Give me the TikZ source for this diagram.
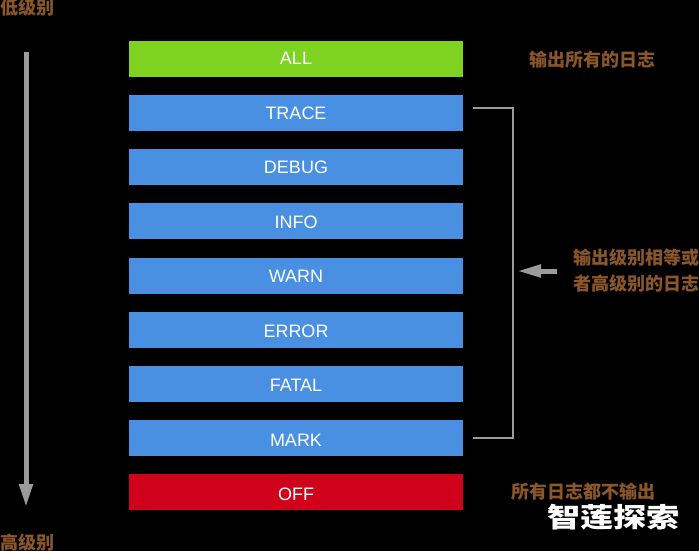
\documentclass[tikz,border=0pt]{standalone}
\usepackage{graphicx}
\usepackage{fontspec}
\setmainfont{Liberation Sans}
\newfontfamily\cjk{Noto Sans CJK SC}
\usetikzlibrary{arrows.meta}
\definecolor{barblue}{HTML}{4A90E2}
\definecolor{bargreen}{HTML}{7ED321}
\definecolor{barred}{HTML}{D0021B}
\definecolor{notebrown}{HTML}{8B572A}
\definecolor{linegray}{HTML}{9B9B9B}
\tikzset{
	levelbar/.style={minimum width=334pt,minimum height=36pt,inner sep=0pt},
	leveltext/.style={inner sep=0pt,text=white,font=\fontsize{18}{18}\selectfont},
	note/.style={text=notebrown,inner sep=0pt,font=\cjk\bfseries\fontsize{18}{26}\selectfont,align=left},
	bigarrow/.style={draw=linegray,line width=5pt,-{Triangle[length=23pt,width=13pt,fill=linegray]}},
}
\begin{document}
\begin{tikzpicture}[x=1pt,y=-1pt]
	\path[fill=black,use as bounding box] (0,0) rectangle (699,551);
	\foreach \x/\y/\c/\s in {ALL/59/bargreen/-1,TRACE/113/barblue/0,DEBUG/167/barblue/0.5,INFO/221/barblue/1.5,WARN/276/barblue/0.5,ERROR/330/barblue/1.5,FATAL/384/barblue/1.5,MARK/438/barblue/2.5,OFF/492/barred/2}
	\path (296,\y) node[levelbar,fill=\c] (\x) {} (296,\y+\s) node[leveltext] (\x text) {\x};
	\coordinate (top) at (26,52);
	\coordinate (bottom) at (26,507);
	\draw[bigarrow] (top)--(bottom);%left arrow
	\node[note,anchor=west] (low) at (0,8) {低级别};
	\node[note,anchor=west] (high) at (0,543) {高级别};
	\node[note,anchor=west] (allnote) at (529,60) {输出所有的日志};
	\node[note,anchor=west] (samenote) at (573,271) {输出级别相等或\\者高级别的日志};
	\node[note,anchor=west] (offnote) at (511,492) {所有日志都不输出};
	\coordinate (a) at (473,108);
	\coordinate (b) at (513,108);
	\coordinate (c) at (513,438);
	\coordinate (d) at (473,438);
	\draw[linegray,line width=1.5pt] (a)--(b)--(c)--(d);%bracket
	\coordinate (from) at (557,271);
	\coordinate (to) at (517,271);
	\draw[bigarrow,-{Triangle[length=24pt,width=12pt,fill=linegray]}] (from)--(to);
	\node[text=white,inner sep=0pt,anchor=west,font=\cjk\bfseries\fontsize{27}{27}\selectfont] (mark) at (547,517) {\scalebox{1.23}[1]{智莲探索}};
\end{tikzpicture}
\end{document}
